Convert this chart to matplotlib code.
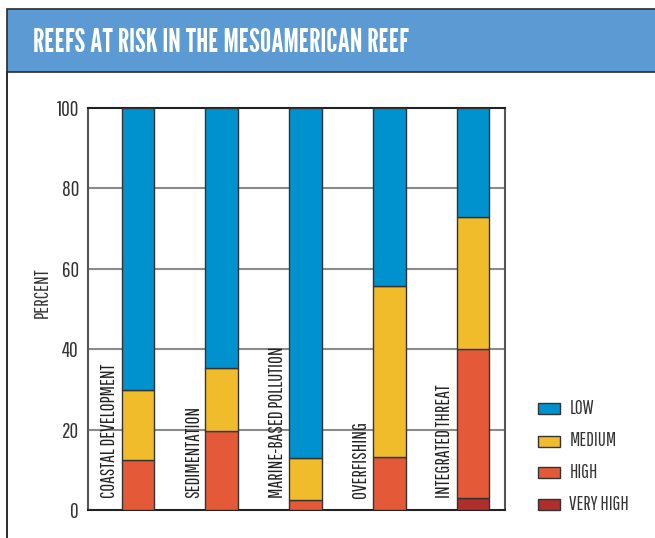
import matplotlib
matplotlib.use("Agg")
import matplotlib.pyplot as plt
from matplotlib.patches import Rectangle

label_font = ["Pathway Gothic One", "Roboto Condensed", "DejaVu Sans"]
title_font = ["League Gothic", "Barlow Condensed", "DejaVu Sans"]

categories = ["COASTAL DEVELOPMENT", "SEDIMENTATION", "MARINE-BASED POLLUTION",
              "OVERFISHING", "INTEGRATED THREAT"]
very_high = [0, 0, 0, 0, 2.9]
high = [12.4, 19.6, 2.5, 13.3, 37.1]
medium = [17.4, 15.6, 10.4, 42.4, 32.9]
low = [70.2, 64.8, 87.1, 44.3, 27.1]
levels = ["LOW", "MEDIUM", "HIGH", "VERY HIGH"]
colors = {"LOW": "#0092CF", "MEDIUM": "#F0BC2B", "HIGH": "#E45A38", "VERY HIGH": "#B02E2C"}
yticks = [0, 20, 40, 60, 80, 100]

fig = plt.figure(figsize=(6.55, 5.38), dpi=100)
W, H = 655, 538
renderer = fig.canvas.get_renderer()


def fit_size(s, family, target_px, weight="normal"):
    t = fig.text(0, 0, s, family=family, fontsize=10, fontweight=weight)
    w = t.get_window_extent(renderer=renderer).width
    t.remove()
    return 10 * target_px / w


title_fs = fit_size("REEFS AT RISK IN THE MESOAMERICAN REEF", title_font, 372)
bar_fs = fit_size("COASTAL DEVELOPMENT", label_font, 134)
tick_fs = fit_size("100", label_font, 22)
ylab_fs = fit_size("PERCENT", label_font, 50)
leg_fs = fit_size("VERY HIGH", label_font, 59)

# header band
fig.patches.append(Rectangle((6.5 / W, 1 - 71.7 / H), 1.0, 62.3 / H, transform=fig.transFigure,
                             facecolor="#5B9AD2", edgecolor="#2a2a2a", linewidth=1.2))
fig.add_artist(plt.Line2D([7.2 / W, 7.2 / W], [0, 1 - 72 / H], transform=fig.transFigure,
                          color="#2a2a2a", linewidth=1.4))
fig.text(33 / W, 1 - 51.7 / H, "REEFS AT RISK IN THE MESOAMERICAN REEF", color="white",
         fontsize=title_fs, family=title_font, va="baseline", ha="left")

ax = fig.add_axes([88 / W, 1 - 510 / H, (505 - 88) / W, (510 - 108) / H])
x = list(range(len(categories)))
bw = 0.39
ec = "#333333"
b1 = [v for v in very_high]
ax.bar(x, very_high, bw, color=colors["VERY HIGH"], edgecolor=ec, linewidth=1, zorder=3)
ax.bar(x, high, bw, bottom=b1, color=colors["HIGH"], edgecolor=ec, linewidth=1, zorder=3)
b2 = [a + b for a, b in zip(b1, high)]
ax.bar(x, medium, bw, bottom=b2, color=colors["MEDIUM"], edgecolor=ec, linewidth=1, zorder=3)
b3 = [a + b for a, b in zip(b2, medium)]
ax.bar(x, low, bw, bottom=b3, color=colors["LOW"], edgecolor=ec, linewidth=1, zorder=3)

ax.set_xlim(-0.597, 4.38)
ax.set_ylim(0, 100)
ax.set_yticks(yticks)
ax.set_yticklabels([str(t) for t in yticks], family=label_font, fontsize=tick_fs, color="#333333")
ax.set_xticks([])
ax.tick_params(axis="y", length=0, pad=6.5)
for yv in yticks[1:-1]:
    ax.axhline(yv, color="#8a8a8a", linewidth=1.5, zorder=1)
for s in ax.spines.values():
    s.set_color("#555555")
    s.set_linewidth(1.5)
ax.spines["top"].set_color("#222222")
ax.spines["bottom"].set_color("#222222")

fig.text(47.7 / W, 1 - 318 / H, "PERCENT", rotation=90, rotation_mode="anchor",
         ha="left", va="baseline", family=label_font, fontsize=ylab_fs, color="#333333")

for xi, cat in zip(x, categories):
    ax.text(xi - 0.275, 3.0, cat, rotation=90, rotation_mode="anchor", ha="left",
            va="baseline", family=label_font, fontsize=bar_fs, color="#222222", zorder=4)

# legend
ly = [408.7, 441, 472, 504.5]
for lv, yy in zip(levels, ly):
    fig.patches.append(Rectangle((538.3 / W, 1 - (yy + 5.5) / H), 21.7 / W, 11 / H,
                                 transform=fig.transFigure, facecolor=colors[lv],
                                 edgecolor="#333333", linewidth=1))
    fig.text(569.3 / W, 1 - (yy + 5.5) / H, lv, family=label_font, fontsize=leg_fs,
             color="#333333", va="baseline", ha="left")

fig.savefig("out.png", dpi=100)
